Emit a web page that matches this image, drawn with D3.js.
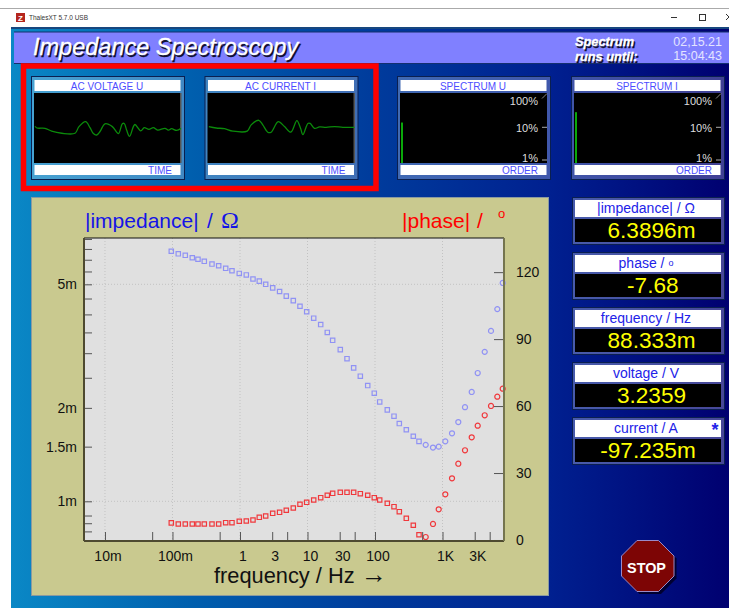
<!DOCTYPE html>
<html>
<head>
<meta charset="utf-8">
<script src="https://cdn.jsdelivr.net/npm/d3@7"></script>
<style>
body { margin: 0; background: #fff; }
svg { display: block; font-family: "Liberation Sans", Arial, sans-serif; }
</style>
</head>
<body>
<svg id="screen" width="729" height="608"></svg>
<script>
// values
const frequency = [0.096, 0.1219, 0.1547, 0.1965, 0.2386, 0.2959, 0.3847, 0.4835, 0.614, 0.761, 0.976, 1.24, 1.558, 1.932, 2.403, 3.051, 3.86, 4.851, 6.16, 7.74, 9.73, 12.36, 15.69, 19.65, 23.6, 30.6, 38.5, 48.3, 60.6, 78, 97.6, 117.4, 152.1, 191.2, 229.1, 290.9, 369.3, 448.5, 563.8, 723, 878.6, 1100, 1383, 1714, 2154, 2708, 3323, 4220, 5230, 6484, 7798];
// milliohm
const impedance = [6.39, 6.27, 6.2, 6.09, 6.02, 5.93, 5.81, 5.74, 5.63, 5.53, 5.42, 5.36, 5.2, 5.12, 5, 4.87, 4.74, 4.58, 4.43, 4.25, 4.08, 3.89, 3.71, 3.5, 3.3, 3.08, 2.88, 2.69, 2.53, 2.36, 2.23, 2.09, 1.97, 1.88, 1.78, 1.7, 1.62, 1.56, 1.52, 1.49, 1.5, 1.56, 1.656, 1.8, 2.01, 2.25, 2.59, 3.03, 3.54, 4.16, 5.05];
// negative values are plotted as squares, positive as circles
const phase = [-7.68, -7.17, -7.17, -7.17, -7.17, -7.17, -7.17, -7.17, -7.75, -7.75, -8.38, -8.51, -8.96, -10.17, -10.75, -11.96, -12.41, -13.31, -14.34, -16, -16.89, -17.92, -18.95, -20.03, -20.92, -21.37, -21.37, -21.37, -20.74, -20.03, -18.95, -17.92, -16.44, -14.92, -12.68, -9.72, -6.59, -2.37, 1.34, 7.17, 13.75, 20.47, 27.64, 34.18, 40.19, 46.01, 51.21, 55.87, 60.04, 64.2, 67.79];

const freqTicks = [0.01, 0.05, 0.1, 0.5, 1, 3, 5, 10, 30, 50, 100, 500, 1000, 3000, 5000];
const freqLabels = { 0.01: "10m", 0.1: "100m", 1: "1", 3: "3", 10: "10", 30: "30", 100: "100", 1000: "1K", 3000: "3K" };
const impedanceTicks = [0.8, 0.85, 0.9, 1, 1.5, 2, 2.5, 3, 3.5, 4, 4.5, 5, 5.5, 6, 6.5, 7];
const impedanceLabels = { 1: "1m", 1.5: "1.5m", 2: "2m", 5: "5m" };
const phaseTicks = [0, 30, 60, 90, 120];

const voltageTime = [0.7, 2, 7.5, 12, 18.9, 27.9, 30.6, 35.1, 38.1, 40.4, 42.6, 44.9, 48.3, 53.3, 57.4, 60.1, 61.4, 63, 65, 67.6, 68.7, 72.6, 75, 78.2, 81.2, 84.1, 89.1, 91.4, 93.6, 97, 100];
const voltageWave = [0.05, 0, -0.01, -0.09, -0.15, -0.15, 0.04, 0.18, 0.01, -0.16, -0.2, -0.1, 0.12, 0.04, -0.16, 0.12, 0.13, -0.06, -0.24, 0.04, 0.1, -0.08, 0.01, -0.04, 0.01, -0.06, -0.01, -0.06, -0.02, -0.07, -0.01];
const currentTime = [0.9, 5.9, 11.6, 17.2, 27, 29.7, 34.9, 37.6, 41, 43.3, 48.1, 52.4, 56.7, 60.8, 63.3, 64.9, 68.3, 69.8, 72.8, 76.2, 80.7, 86.4, 92.1, 100];
const currentWave = [0.04, 0, -0.02, -0.09, -0.09, 0.09, 0.22, 0.09, -0.12, -0.12, 0.18, 0.04, -0.12, 0.21, -0.01, -0.19, 0.13, 0.13, -0.01, 0.03, 0.02, 0.04, 0.02, 0.02];
const spectrumU = [14];
const spectrumI = [29];
const spectrumTicks = [1, 10, 100];

const readoutTitles = ["|impedance| / Ω", "phase / ", "frequency / Hz", "voltage / V", "current / A"];
const readoutValues = ["6.3896m", "-7.68", "88.333m", "3.2359", "-97.235m"];

const svg = d3.select("#screen");

const defs = svg.append("defs");
const grad = defs.append("linearGradient").attr("id", "bg")
  .attr("gradientUnits", "userSpaceOnUse")
  .attr("x1", 11).attr("x2", 729).attr("y1", 0).attr("y2", 0);
[[0, "#0a88c6"], [0.25, "#005fae"], [0.5, "#003c9c"], [0.75, "#002090"], [1, "#000070"]]
  .forEach(s => grad.append("stop").attr("offset", s[0]).attr("stop-color", s[1]));

// window chrome
svg.append("rect").attr("x", 0).attr("y", 8).attr("width", 729).attr("height", 1).attr("fill", "#aaa");
svg.append("rect").attr("x", 16).attr("y", 13).attr("width", 9).attr("height", 9).attr("fill", "#b5261e");
svg.append("text").attr("x", 20.5).attr("y", 21).attr("text-anchor", "middle")
  .attr("font-size", 8).attr("font-weight", "bold").attr("fill", "#fff").text("Z");
svg.append("text").attr("x", 29).attr("y", 20).attr("font-size", 7.2).attr("fill", "#333")
  .attr("textLength", 59).attr("lengthAdjust", "spacingAndGlyphs").text("ThalesXT 5.7.0 USB");
svg.append("rect").attr("x", 671).attr("y", 17).attr("width", 6).attr("height", 1).attr("fill", "#333");
svg.append("rect").attr("x", 699.5).attr("y", 14.5).attr("width", 6).attr("height", 6)
  .attr("fill", "none").attr("stroke", "#333");
svg.append("path").attr("d", "M726,14L732,20M732,14L726,20").attr("stroke", "#333");

// application background
svg.append("rect").attr("x", 11).attr("y", 27).attr("width", 718).attr("height", 581).attr("fill", "url(#bg)");
svg.append("rect").attr("x", 11).attr("y", 27).attr("width", 718).attr("height", 2).attr("fill", "#17477f");

// header
svg.append("rect").attr("x", 14).attr("y", 32).attr("width", 715).attr("height", 31).attr("fill", "#8080ff");
svg.append("path").attr("d", "M14,32H729M14,63.5H729").attr("stroke", "#14306f");

function shadowText(x, y, size, label, weight) {
  [["#101030", 1.5], ["#fff", 0]].forEach(s => {
    svg.append("text").attr("x", x + s[1]).attr("y", y + s[1])
      .attr("font-size", size).attr("font-style", "italic").attr("font-weight", weight)
      .attr("fill", s[0]).attr("stroke", s[0]).attr("stroke-width", 0.3).text(label);
  });
}
shadowText(33, 55, 23.5, "Impedance Spectroscopy", "normal");
shadowText(575, 46, 12.8, "Spectrum", "bold");
shadowText(575, 61, 12.8, "runs until:", "bold");
[["02,15.21", 46], ["15:04:43", 60]].forEach(d => {
  svg.append("text").attr("x", 722).attr("y", d[1]).attr("text-anchor", "end")
    .attr("font-size", 12.5).attr("fill", "#e4e4ff").text(d[0]);
});

// small scope panels
function panel(x0, title, footer) {
  const g = svg.append("g").attr("transform", `translate(${x0},76)`);
  g.append("rect").attr("x", 0.5).attr("y", 0.5).attr("width", 153).attr("height", 103)
    .attr("fill", "#fff").attr("fill-opacity", 0.25).attr("stroke", "#0a1f50");
  g.append("rect").attr("x", 3.5).attr("y", 4).attr("width", 146).attr("height", 11).attr("fill", "#fff");
  g.append("rect").attr("x", 3).attr("y", 17).attr("width", 147).attr("height", 70).attr("fill", "#000");
  g.append("rect").attr("x", 3.5).attr("y", 89).attr("width", 146).attr("height", 10).attr("fill", "#fff");
  g.append("text").attr("x", 76).attr("y", 14).attr("text-anchor", "middle")
    .attr("font-size", 10).attr("fill", "#4d4dff").text(title);
  g.append("text").attr("x", 141).attr("y", 98).attr("text-anchor", "end")
    .attr("font-size", 10).attr("fill", "#4d4dff").text(footer);
  return g;
}

function wavePanel(x0, title, time, wave) {
  const g = panel(x0, title, "TIME");
  const tx = d3.scaleLinear().domain([0, 100]).range([3, 150]);
  const ty = d3.scaleLinear().domain([-1, 1]).range([87, 17]);
  g.append("rect").attr("x", 149).attr("y", 17).attr("width", 1.5).attr("height", 70).attr("fill", "#555");
  g.append("path")
    .attr("d", d3.line().curve(d3.curveCatmullRom).x((d, i) => tx(time[i])).y(d => ty(d))(wave))
    .attr("fill", "none").attr("stroke", "#0b8a0b").attr("stroke-width", 1.3);
}

function spectrumPanel(x0, title, values) {
  const g = panel(x0, title, "ORDER");
  const sy = d3.scaleLog().domain([1, 100]).range([84, 18.6]);
  g.selectAll("rect.bar").data(values).join("rect").attr("class", "bar")
    .attr("x", 4).attr("width", 2)
    .attr("y", d => sy(d)).attr("height", d => 87 - sy(d))
    .attr("fill", "#0aa80a");
  g.selectAll("text.pct").data(spectrumTicks).join("text").attr("class", "pct")
    .attr("x", 141).attr("y", d => d === 100 ? 29 : d === 10 ? 55.5 : 85.5)
    .attr("text-anchor", "end").attr("font-size", 11).attr("fill", "#ddd")
    .text(d => d + "%");
  g.selectAll("line.tk").data(spectrumTicks.slice(0, 2)).join("line").attr("class", "tk")
    .attr("x1", 145).attr("x2", 150).attr("y1", d => sy(d)).attr("y2", d => sy(d))
    .attr("stroke", "#aaa");
  g.append("line").attr("x1", 145).attr("y1", 22.5).attr("x2", 150).attr("y2", 17.5).attr("stroke", "#888");
}

wavePanel(31, "AC VOLTAGE U", voltageTime, voltageWave);
wavePanel(204.5, "AC CURRENT I", currentTime, currentWave);
spectrumPanel(397, "SPECTRUM U", spectrumU);
spectrumPanel(571, "SPECTRUM I", spectrumI);

// red marking round the first two panels
svg.append("rect").attr("x", 23.5).attr("y", 66).attr("width", 352.5).attr("height", 122.5)
  .attr("fill", "none").attr("stroke", "#f00").attr("stroke-width", 5.5);

// main chart
svg.append("rect").attr("x", 31.5).attr("y", 197.5).attr("width", 517).attr("height", 398)
  .attr("fill", "#c9c98f").attr("stroke", "#8a9aa0");

const margin = { top: 238, right: 225, bottom: 67, left: 84 },
  width = 729 - margin.left - margin.right,
  height = 608 - margin.top - margin.bottom;

const g = svg.append("g").attr("transform", `translate(${margin.left},${margin.top})`);

const x = d3.scaleLog().domain([0.00489, 8147]).range([0, width]);
const yZ = d3.scaleLog().domain([0.745, 7.05]).range([height, 0]);
const yP = d3.scaleLinear().domain([-0.45, 135.3]).range([height, 0]);

g.append("rect").attr("width", width).attr("height", height).attr("fill", "#e0e0e0");

// dotted grid
g.selectAll("line.gx").data([0.01, 0.1, 1, 10, 100, 1000]).join("line").attr("class", "gx")
  .attr("x1", d => x(d)).attr("x2", d => x(d)).attr("y1", 0).attr("y2", height)
  .attr("stroke", "#c2c2c2").attr("stroke-dasharray", "1,2");
g.selectAll("line.gy").data([1, 5]).join("line").attr("class", "gy")
  .attr("x1", 0).attr("x2", width).attr("y1", d => yZ(d)).attr("y2", d => yZ(d))
  .attr("stroke", "#c2c2c2").attr("stroke-dasharray", "1,2");

function marks(color, yOf) {
  g.append("g").selectAll("path").data(frequency).join("path")
    .attr("transform", (d, i) => `translate(${x(d)},${yOf(i)})`)
    .attr("d", (d, i) => d3.symbol().type(phase[i] < 0 ? d3.symbolSquare : d3.symbolCircle)
      .size(phase[i] < 0 ? 19 : 20)())
    .attr("fill", "none").attr("stroke", color).attr("stroke-width", 1.2);
}
marks("#9092f4", i => yZ(impedance[i]));
marks("#f0383c", i => yP(Math.abs(phase[i])));

// axes
function styleAxis(sel, size, dx) {
  sel.select(".domain").remove();
  sel.selectAll("line").attr("stroke", "#555");
  sel.selectAll("text").attr("font-size", size).attr("fill", "#111")
    .attr("font-family", "Liberation Sans, Arial, sans-serif")
    .attr("dx", dx);
}

g.append("g").attr("transform", `translate(0,${height})`)
  .call(d3.axisBottom(x).tickValues(freqTicks).tickFormat(d => freqLabels[d] || "")
    .tickSizeInner(-9).tickSizeOuter(0).tickPadding(10))
  .call(s => styleAxis(s, 14, 2.5));

g.append("g")
  .call(d3.axisLeft(yZ).tickValues(impedanceTicks).tickFormat(d => impedanceLabels[d] || "")
    .tickSizeInner(-8).tickSizeOuter(0).tickPadding(7))
  .call(s => styleAxis(s, 14, 0));

g.append("g").attr("transform", `translate(${width},0)`)
  .call(d3.axisRight(yP).tickValues(phaseTicks).tickSizeInner(-10).tickSizeOuter(0).tickPadding(12))
  .call(s => styleAxis(s, 14, 0));

// frame of the plot
g.append("line").attr("x1", 0).attr("x2", width).attr("y1", 0).attr("y2", 0).attr("stroke", "#111").attr("stroke-width", 1.2);
g.append("line").attr("x1", 0).attr("x2", width).attr("y1", height).attr("y2", height).attr("stroke", "#4e4a30").attr("stroke-width", 2);
g.append("line").attr("x1", 0).attr("x2", 0).attr("y1", 0).attr("y2", height).attr("stroke", "#4e4a30").attr("stroke-width", 2);
g.append("line").attr("x1", width).attr("x2", width).attr("y1", 0).attr("y2", height).attr("stroke", "#75754f").attr("stroke-width", 2);

// chart titles
const zTitle = svg.append("text").attr("y", 228).attr("font-size", 21).attr("fill", "#1414e6");
zTitle.append("tspan").attr("x", 85).text("|impedance|");
zTitle.append("tspan").attr("x", 207).text("/");
zTitle.append("tspan").attr("x", 221).attr("font-size", 24).attr("font-family", "Liberation Serif, serif").text("Ω");
svg.append("text").attr("y", 228).attr("font-size", 21).attr("fill", "#f00")
  .call(t => t.append("tspan").attr("x", 402).text("|phase|"))
  .call(t => t.append("tspan").attr("x", 477).text("/"));
svg.append("text").attr("x", 498).attr("y", 218).attr("font-size", 13).attr("fill", "#f00").text("o");
svg.append("text").attr("x", 214).attr("y", 583).attr("font-size", 21.8).attr("fill", "#111")
  .call(t => t.append("tspan").text("frequency / Hz "))
  .call(t => t.append("tspan").attr("x", 361).attr("font-size", 26).text("→"));

// readouts on the right
const rowTop = [197, 252, 307, 362, 417];
const valueCenter = [651.5, 652.8, 651.5, 651.5, 648];
readoutTitles.forEach((t, i) => {
  const r = svg.append("g").attr("transform", `translate(572,${rowTop[i]})`);
  r.append("rect").attr("x", 0.5).attr("y", 0.5).attr("width", 152).attr("height", 47)
    .attr("fill", "#fff").attr("fill-opacity", 0.28).attr("stroke", "#0a1f50");
  r.append("rect").attr("x", 3).attr("y", 3).attr("width", 146).attr("height", 17).attr("fill", "#fff");
  r.append("rect").attr("x", 3).attr("y", 22).attr("width", 146).attr("height", 23).attr("fill", "#000");
  const label = r.append("text").attr("x", 74).attr("y", 16).attr("text-anchor", "middle")
    .attr("font-size", 14).attr("fill", "#2222e8").text(t);
  if (i === 1) label.append("tspan").attr("font-size", 9).attr("dy", -2).text("o");
  r.append("text").attr("x", valueCenter[i] - 572).attr("y", 41).attr("text-anchor", "middle")
    .attr("font-size", 22.6).attr("fill", "#ffff00").text(readoutValues[i]);
});
svg.append("text").attr("x", 715).attr("y", 436).attr("text-anchor", "middle")
  .attr("font-size", 18).attr("font-weight", "bold").attr("fill", "#2222e8").text("*");

// stop button
const octagon = "M637,540.5H658.5L674,556V576L658.5,591.5H637L621.5,576V556Z";
svg.append("path").attr("d", octagon).attr("transform", "translate(2.5,2.5)").attr("fill", "#000030");
svg.append("path").attr("d", octagon).attr("fill", "#7d0505").attr("stroke", "#9a8ac8");
svg.append("text").attr("x", 646.5).attr("y", 572.5).attr("text-anchor", "middle")
  .attr("font-size", 14.4).attr("font-weight", "bold").attr("fill", "#fff").text("STOP");
</script>
</body>
</html>
